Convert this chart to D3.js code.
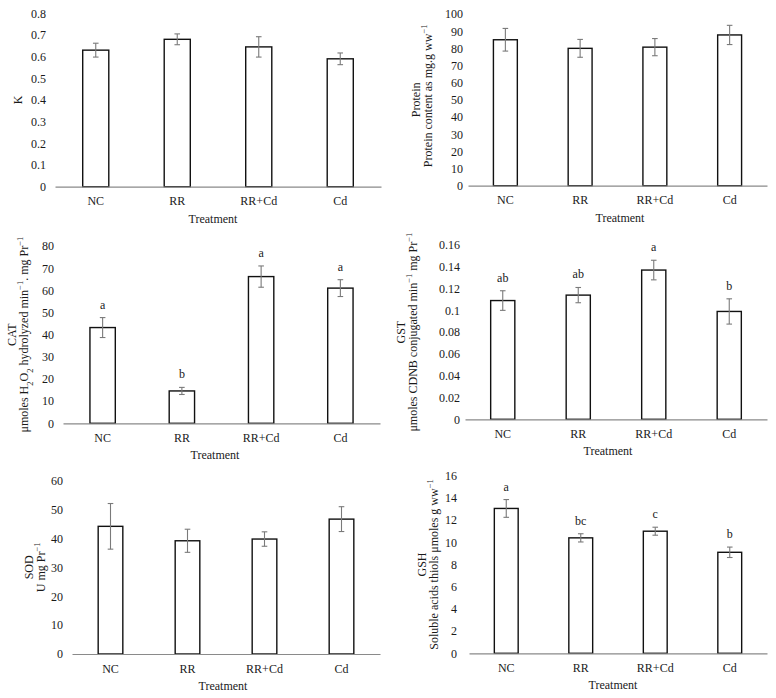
<!DOCTYPE html>
<html>
<head>
<meta charset="utf-8">
<script src="https://cdn.jsdelivr.net/npm/d3@7"></script>
<style>
  html, body { margin: 0; padding: 0; background: #fff; }
  svg, svg text, svg tspan { font-family: "Liberation Serif", "Times New Roman", "DejaVu Serif", serif !important; }
  svg text { fill: #1a1a1a; }
</style>
</head>
<body>
<svg id="chart" width="776" height="698" font-family="Liberation Serif, serif"></svg>
<script>
// ---------- DATA ----------
const categories = ["NC", "RR", "RR+Cd", "Cd"];

const kValues = [0.63, 0.68, 0.645, 0.59];
const kErrors = [0.032, 0.025, 0.047, 0.027];
const kTicks = [0, 0.1, 0.2, 0.3, 0.4, 0.5, 0.6, 0.7, 0.8];

const proteinValues = [85, 80, 80.7, 87.8];
const proteinErrors = [6.6, 5.2, 5.0, 5.6];
const proteinTicks = [0, 10, 20, 30, 40, 50, 60, 70, 80, 90, 100];

const catValues = [43.2, 14.6, 66.2, 61.0];
const catErrors = [4.5, 1.6, 4.8, 3.8];
const catLetters = ["a", "b", "a", "a"];
const catTicks = [0, 10, 20, 30, 40, 50, 60, 70, 80];

const gstValues = [0.109, 0.114, 0.137, 0.099];
const gstErrors = [0.009, 0.007, 0.009, 0.0116];
const gstLetters = ["ab", "ab", "a", "b"];
const gstTicks = [0, 0.02, 0.04, 0.06, 0.08, 0.1, 0.12, 0.14, 0.16];

const sodValues = [44.2, 39.2, 39.8, 46.7];
const sodErrors = [7.9, 4.0, 2.5, 4.3];
const sodTicks = [0, 10, 20, 30, 40, 50, 60];

const gshValues = [13.05, 10.4, 11.0, 9.1];
const gshErrors = [0.8, 0.37, 0.36, 0.47];
const gshLetters = ["a", "bc", "c", "b"];
const gshTicks = [0, 2, 4, 6, 8, 10, 12, 14, 16];

// ---------- LAYOUT ----------
const panels = [
  { values: kValues, errors: kErrors, ticks: kTicks, letters: null,
    x0: 55, x1: 381, yBase: 186.7, yTop: 13.3, labelGap: 9,
    yLabel: [[{t: "K"}]], yLabelX: [22], titleX: 213 },
  { values: proteinValues, errors: proteinErrors, ticks: proteinTicks, letters: null,
    x0: 468, x1: 767, yBase: 185.7, yTop: 14, labelGap: 5,
    yLabel: [[{t: "Protein"}], [{t: "Protein content as mg.g ww"}, {t: "−1", sup: true}]],
    yLabelX: [420, 432], yLabelDy: [0, -4], titleX: 620 },
  { values: catValues, errors: catErrors, ticks: catTicks, letters: catLetters,
    x0: 63, x1: 380, yBase: 423.3, yTop: 246, labelGap: 9,
    yLabel: [[{t: "CAT"}], [{t: "μmoles H"}, {t: "2", sub: true}, {t: "O"}, {t: "2", sub: true},
             {t: " hydrolyzed min"}, {t: "−1", sup: true}, {t: ". mg Pr"}, {t: "−1", sup: true}]],
    yLabelX: [16, 28], yLabelDy: [0, 0], titleX: 215 },
  { values: gstValues, errors: gstErrors, ticks: gstTicks, letters: gstLetters,
    x0: 465, x1: 767, yBase: 419.3, yTop: 245, labelGap: 5,
    yLabel: [[{t: "GST"}], [{t: "μmoles CDNB conjugated min"}, {t: "−1", sup: true}, {t: " mg Pr"}, {t: "−1", sup: true}]],
    yLabelX: [405, 417], yLabelDy: [0, 0], titleX: 608 },
  { values: sodValues, errors: sodErrors, ticks: sodTicks, letters: null,
    x0: 72, x1: 380, yBase: 654, yTop: 480.7, labelGap: 9,
    yLabel: [[{t: "SOD"}], [{t: "U mg Pr"}, {t: "−1", sup: true}]],
    yLabelX: [33, 45], yLabelDy: [0, 0], titleX: 223 },
  { values: gshValues, errors: gshErrors, ticks: gshTicks, letters: gshLetters,
    x0: 469, x1: 767, yBase: 653.3, yTop: 475.7, labelGap: 12,
    yLabel: [[{t: "GSH"}], [{t: "Soluble acids thiols μmoles g ww"}, {t: "−1", sup: true}]],
    yLabelX: [426, 438], yLabelDy: [0, 0], titleX: 613 }
];

const FONT = '"Liberation Serif", "Times New Roman", serif';
const FS = "12px";
const svg = d3.select("#chart");

function drawPanel(p) {
  const g = svg.append("g");
  const yMax = p.ticks[p.ticks.length - 1];
  const y = d3.scaleLinear().domain([0, yMax]).range([p.yBase, p.yTop]);
  const x = d3.scaleBand().domain(categories).range([p.x0, p.x1])
    .paddingInner(0.68).paddingOuter(0.34);

  // y tick labels (no axis line, no tick marks)
  const yAxis = d3.axisLeft(y).tickValues(p.ticks).tickSize(0).tickPadding(p.labelGap)
    .tickFormat(d => String(+d.toFixed(2)));
  const ya = g.append("g").attr("transform", `translate(${p.x0},0)`).call(yAxis);
  ya.attr("font-family", FONT).attr("font-size", FS);
  ya.select(".domain").remove();
  ya.selectAll("text").attr("fill", "#1a1a1a");

  // bars
  g.selectAll("rect.bar").data(p.values).join("rect")
    .attr("class", "bar")
    .attr("x", (d, i) => x(categories[i]))
    .attr("width", x.bandwidth())
    .attr("y", d => y(d))
    .attr("height", d => y(0) - y(d))
    .attr("fill", "#fff").attr("stroke", "#111").attr("stroke-width", 1.4);

  // x axis
  const xAxis = d3.axisBottom(x).tickSize(0).tickPadding(10);
  const xa = g.append("g").attr("transform", `translate(0,${p.yBase})`).call(xAxis);
  xa.attr("font-family", FONT).attr("font-size", FS);
  xa.select(".domain").attr("stroke", "#8a8a8a").attr("stroke-width", 1.2);
  xa.selectAll("text").attr("fill", "#1a1a1a");

  // error bars
  const eb = g.selectAll("g.err").data(p.values).join("g").attr("class", "err");
  const cx = i => x(categories[i]) + x.bandwidth() / 2;
  eb.append("line")
    .attr("x1", (d, i) => cx(i)).attr("x2", (d, i) => cx(i))
    .attr("y1", (d, i) => y(d + p.errors[i])).attr("y2", (d, i) => y(d - p.errors[i]))
    .attr("stroke", "#7a7a7a").attr("stroke-width", 1.1);
  [1, -1].forEach(s => {
    eb.append("line")
      .attr("x1", (d, i) => cx(i) - 2.8).attr("x2", (d, i) => cx(i) + 2.8)
      .attr("y1", (d, i) => y(d + s * p.errors[i])).attr("y2", (d, i) => y(d + s * p.errors[i]))
      .attr("stroke", "#7a7a7a").attr("stroke-width", 1.1);
  });

  // significance letters
  if (p.letters) {
    g.selectAll("text.letter").data(p.values).join("text")
      .attr("class", "letter")
      .attr("x", (d, i) => cx(i))
      .attr("y", (d, i) => y(d + p.errors[i]) - 9)
      .attr("text-anchor", "middle")
      .attr("font-family", FONT).attr("font-size", FS)
      .text((d, i) => p.letters[i]);
  }

  // x title
  g.append("text")
    .attr("x", p.titleX).attr("y", p.yBase + 36)
    .attr("text-anchor", "middle")
    .attr("font-family", FONT).attr("font-size", FS)
    .text("Treatment");

  // y title (rotated, possibly 2 lines)
  const cy = (p.yBase + p.yTop) / 2;
  p.yLabel.forEach((parts, li) => {
    const dy = p.yLabelDy ? p.yLabelDy[li] : 0;
    const t = g.append("text")
      .attr("transform", `translate(${p.yLabelX[li]},${cy + dy}) rotate(-90)`)
      .attr("text-anchor", "middle")
      .attr("font-family", FONT).attr("font-size", FS);
    parts.forEach(part => {
      const ts = t.append("tspan").text(part.t);
      if (part.sup) ts.attr("baseline-shift", "super").attr("font-size", "8.5px");
      if (part.sub) ts.attr("baseline-shift", "sub").attr("font-size", "8.5px");
    });
  });
}

panels.forEach(drawPanel);
</script>
</body>
</html>
